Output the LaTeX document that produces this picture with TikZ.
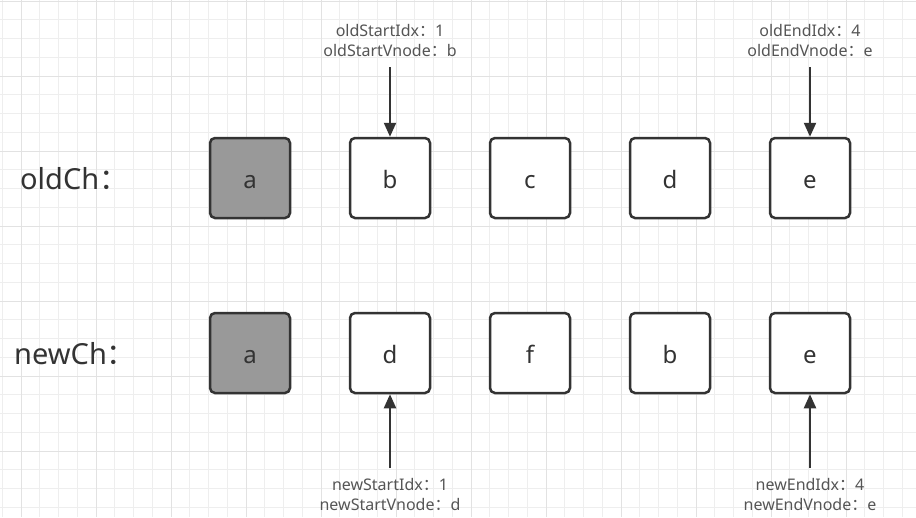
\documentclass[tikz,border=0pt]{standalone}
\usepackage{fontspec}
\setmainfont{Noto Sans}
\newfontfamily\cjkfont{Noto Sans CJK SC}
\newcommand{\fwc}{{\cjkfont ：}}
\usetikzlibrary{arrows.meta}
\definecolor{gridminor}{HTML}{EEEEEE}
\definecolor{gridmajor}{HTML}{E2E2E2}
\definecolor{boxline}{HTML}{333333}
\definecolor{agray}{HTML}{999999}
\definecolor{textdark}{HTML}{333333}
\definecolor{lblgray}{HTML}{555555}
\tikzset{
  box/.style={draw=boxline, line width=2.5pt, rounded corners=5pt, minimum width=80pt, minimum height=80pt, inner sep=0pt, text height=21pt, text depth=0pt, text=textdark, font=\fontsize{24}{28}\selectfont},
  rowlbl/.style={anchor=base west, text=textdark, inner sep=0pt, font=\fontsize{29}{34}\selectfont},
  ptrlbl/.style={align=center, text=lblgray, inner sep=0pt, font=\fontsize{16}{20}\selectfont},
  arr/.style={draw=boxline, line width=2.2pt, -{Triangle[length=14pt,width=12pt]}}
}
\begin{document}
\begin{tikzpicture}[x=1pt,y=-1pt]
\useasboundingbox (0,0) rectangle (916,517);
\fill[white] (0,0) rectangle (916,517);
% grid
\foreach \i in {0,...,49} \draw[gridminor, line width=1pt] ({2.25+18.75*\i},0) -- ++(0,517);
\foreach \i in {0,...,28} \draw[gridminor, line width=1pt] (0,{1.2+18.75*\i}) -- ++(916,0);
\foreach \i in {0,...,12} \draw[gridmajor, line width=1pt] ({21+75*\i},0) -- ++(0,517);
\foreach \i in {0,...,7} \draw[gridmajor, line width=1pt] (0,{1.2+75*\i}) -- ++(916,0);
% row labels
\node[rowlbl] (oldlbl) at (20,189) {oldCh\fwc};
\node[rowlbl] (newlbl) at (14,364) {newCh\fwc};
% old row
\node[box, fill=agray] (oa) at (250,178) {a};
\node[box, fill=white] (ob) at (390,178) {b};
\node[box, fill=white] (oc) at (530,178) {c};
\node[box, fill=white] (od) at (670,178) {d};
\node[box, fill=white] (oe) at (810,178) {e};
% new row
\node[box, fill=agray] (na) at (250,353) {a};
\node[box, fill=white] (nd) at (390,353) {d};
\node[box, fill=white] (nf) at (530,353) {f};
\node[box, fill=white] (nb) at (670,353) {b};
\node[box, fill=white] (ne) at (810,353) {e};
% pointer labels
\node[ptrlbl] (osl) at (390,40) {oldStartIdx\fwc 1\\oldStartVnode\fwc b};
\node[ptrlbl] (oel) at (810,40) {oldEndIdx\fwc 4\\oldEndVnode\fwc e};
\node[ptrlbl] (nsl) at (390,494) {newStartIdx\fwc 1\\newStartVnode\fwc d};
\node[ptrlbl] (nel) at (810,494) {newEndIdx\fwc 4\\newEndVnode\fwc e};
% arrows
\coordinate (osT) at (390,67);
\coordinate (oeT) at (810,67);
\coordinate (nsB) at (390,468);
\coordinate (neB) at (810,468);
\draw[arr] (osT) -- (ob.north);
\draw[arr] (oeT) -- (oe.north);
\draw[arr] (nsB) -- (nd.south);
\draw[arr] (neB) -- (ne.south);
\end{tikzpicture}
\end{document}
